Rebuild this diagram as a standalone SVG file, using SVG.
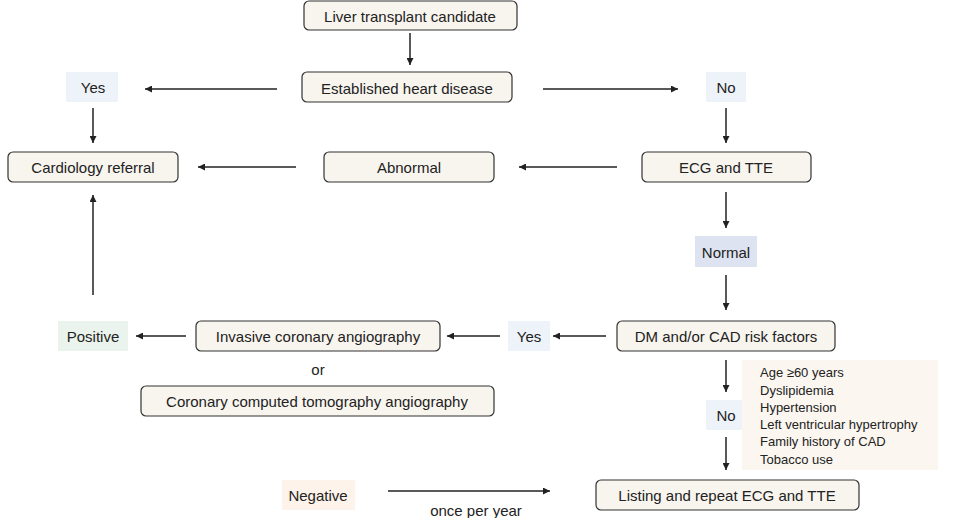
<svg xmlns="http://www.w3.org/2000/svg" width="954" height="518" viewBox="0 0 954 518">
<defs>
<marker id="ah" viewBox="0 0 10 10" refX="10" refY="5" markerWidth="8" markerHeight="7" markerUnits="userSpaceOnUse" orient="auto"><path d="M0,0 L10,5 L0,10 z" fill="#222"/></marker>
<style>
.box{fill:#f8f5ef;stroke:#333;stroke-width:1.2}
text{font-family:"Liberation Sans",Arial,sans-serif;font-size:15px;fill:#222;text-anchor:middle;dominant-baseline:central}
.sm{font-size:13px;text-anchor:start}
.yn{fill:#eef3fa}
line{stroke:#222;stroke-width:1.5;marker-end:url(#ah)}
</style>
</defs>
<rect width="954" height="518" fill="#fff"/>
<g id="connectors">
<line x1="410" y1="33" x2="410" y2="65"/>
<line x1="277" y1="89" x2="145" y2="89"/>
<line x1="543" y1="89" x2="678" y2="89"/>
<line x1="93" y1="108" x2="93" y2="143"/>
<line x1="726" y1="108" x2="726" y2="143"/>
<line x1="296" y1="167" x2="198" y2="167"/>
<line x1="617" y1="167" x2="519" y2="167"/>
<line x1="726" y1="192" x2="726" y2="228"/>
<line x1="726" y1="275" x2="726" y2="310"/>
<line x1="606" y1="336" x2="553" y2="336"/>
<line x1="500" y1="336" x2="447" y2="336"/>
<line x1="186" y1="336" x2="136" y2="336"/>
<line x1="93" y1="295" x2="93" y2="195"/>
<line x1="726" y1="360" x2="726" y2="392"/>
<line x1="726" y1="437" x2="726" y2="470"/>
<line x1="388" y1="491" x2="550" y2="491"/>
</g>
<g id="liver"><rect class="box" x="304" y="1" width="213" height="29" rx="5"/><text x="410" y="16">Liver transplant candidate</text></g>
<g id="established"><rect class="box" x="302" y="72" width="210" height="30" rx="5"/><text x="407" y="88">Established heart disease</text></g>
<g id="yes1"><rect class="yn" x="66" y="72" width="52" height="30"/><text x="93" y="87">Yes</text></g>
<g id="no1"><rect class="yn" x="706" y="72" width="40" height="30"/><text x="726" y="87">No</text></g>
<g id="cardio"><rect class="box" x="8" y="152" width="170" height="30" rx="5"/><text x="93" y="167">Cardiology referral</text></g>
<g id="abnormal"><rect class="box" x="324" y="152" width="170" height="30" rx="5"/><text x="409" y="167">Abnormal</text></g>
<g id="ecg"><rect class="box" x="642" y="152" width="169" height="30" rx="5"/><text x="726" y="167">ECG and TTE</text></g>
<g id="normal"><rect fill="#dde3f0" x="695" y="236" width="62" height="31"/><text x="726" y="252">Normal</text></g>
<g id="dm"><rect class="box" x="617" y="321" width="218" height="30" rx="5"/><text x="726" y="336">DM and/or CAD risk factors</text></g>
<g id="yes2"><rect class="yn" x="508" y="321" width="42" height="30"/><text x="529" y="336">Yes</text></g>
<g id="ica"><rect class="box" x="196" y="321" width="244" height="30" rx="5"/><text x="318" y="336">Invasive coronary angiography</text></g>
<g id="positive"><rect fill="#eaf4ec" x="58" y="321" width="70" height="30"/><text x="93" y="336">Positive</text></g>
<text x="318" y="369">or</text>
<g id="ccta"><rect class="box" x="141" y="386" width="353" height="30" rx="5"/><text x="317" y="401">Coronary computed tomography angiography</text></g>
<g id="no2"><rect class="yn" x="706" y="400" width="40" height="30"/><text x="726" y="415">No</text></g>
<g id="risk"><rect fill="#fbf6f0" x="742" y="360" width="196" height="110"/>
<text class="sm" x="760" y="372">Age ≥60 years</text>
<text class="sm" x="760" y="390">Dyslipidemia</text>
<text class="sm" x="760" y="407">Hypertension</text>
<text class="sm" x="760" y="424">Left ventricular hypertrophy</text>
<text class="sm" x="760" y="441">Family history of CAD</text>
<text class="sm" x="760" y="459">Tobacco use</text></g>
<g id="listing"><rect class="box" x="596" y="480" width="263" height="30" rx="5"/><text x="727" y="495">Listing and repeat ECG and TTE</text></g>
<g id="negative"><rect fill="#fdf3ea" x="282" y="480" width="73" height="30"/><text x="318" y="495">Negative</text></g>
<text x="476" y="510">once per year</text>
</svg>
